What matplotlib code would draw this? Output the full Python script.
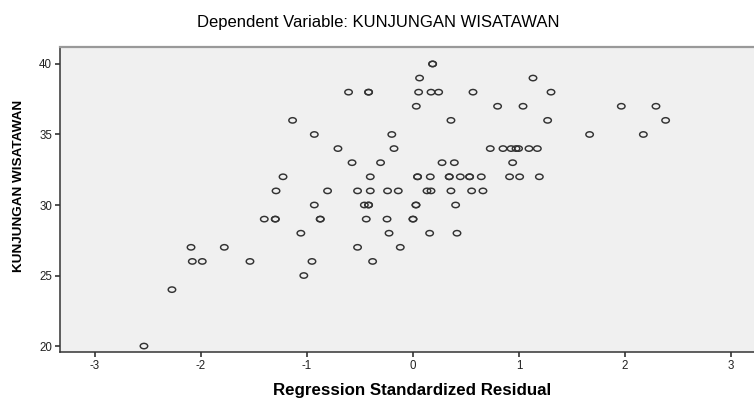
import matplotlib
matplotlib.use("Agg")
import matplotlib.pyplot as plt
from matplotlib.path import Path
from matplotlib.transforms import Affine2D


# data (one entry per plotted point)
residual = [
    0.185, 0.185,
    0.062, 1.132,
    -0.608, -0.419, -0.419, 0.053, 0.170, 0.242, 0.566, 1.302,
    0.031, 0.798, 1.038, 1.965, 2.292,
    -1.136, 0.358, 1.270, 2.383,
    -0.931, -0.200, 1.666, 2.173,
    -0.708, -0.179, 0.729, 0.849, 0.925, 0.972, 0.996, 1.094, 1.173,
    -0.575, -0.306, 0.274, 0.390, 0.940,
    -1.226, -0.403, 0.043, 0.043, 0.163, 0.342, 0.342, 0.446, 0.534, 0.534, 0.644, 0.911, 1.006, 1.192,
    -1.292, -0.806, -0.523, -0.403, -0.240, -0.139, 0.132, 0.170, 0.358, 0.553, 0.660,
    -0.931, -0.459, -0.419, -0.419, 0.028, 0.028, 0.402,
    -1.403, -1.299, -1.299, -0.875, -0.875, -0.441, -0.245, 0.0, 0.0,
    -1.058, -0.226, 0.157, 0.415,
    -2.094, -1.780, -0.523, -0.120,
    -2.082, -1.988, -1.538, -0.953, -0.381,
    -1.030,
    -2.274,
    -2.538,
]
kunjungan = (
    [40] * 2 + [39] * 2 + [38] * 8 + [37] * 5 + [36] * 4 + [35] * 4 + [34] * 9
    + [33] * 5 + [32] * 14 + [31] * 11 + [30] * 7 + [29] * 9 + [28] * 4
    + [27] * 4 + [26] * 5 + [25] + [24] + [20]
)

x_ticks = [-3, -2, -1, 0, 1, 2, 3]
y_ticks = [20, 25, 30, 35, 40]

title = "Dependent Variable: KUNJUNGAN WISATAWAN"
x_label = "Regression Standardized Residual"
y_label = "KUNJUNGAN WISATAWAN"


plt.rcParams['font.family'] = ['Liberation Sans', 'DejaVu Sans']
plt.rcParams['axes.unicode_minus'] = False

fig = plt.figure(figsize=(7.54, 4.01), dpi=100)
ax = fig.add_axes([60 / 754, 49.3 / 401, 706 / 754, 304.4 / 401])
ax.set_facecolor('#f0f0f0')

# the source picture is squashed vertically, so the rings are a bit flat
ring = Path.unit_circle().transformed(Affine2D().scale(1.0, 0.72))
ax.scatter(residual, kunjungan, marker=ring, s=29, facecolors='none',
           edgecolors='#333333', linewidths=1.05, zorder=3)

ax.set_xlim(-3.33, 3.33)
ax.set_ylim(19.6, 41.18)
ax.set_xticks(x_ticks)
ax.set_yticks(y_ticks)
ax.tick_params(axis='both', labelsize=8.3, colors='#333333', labelcolor='#222222',
               length=3.8, width=1.2)
ax.tick_params(axis='x', pad=2.5)
ax.tick_params(axis='y', pad=2)

for side in ['left', 'bottom']:
    ax.spines[side].set_color('#333333')
    ax.spines[side].set_linewidth(1.1)
ax.spines['top'].set_color('#999999')
ax.spines['top'].set_linewidth(1.6)
ax.spines['right'].set_visible(False)

fig.text(378 / 754, 1 - 22 / 401, title, ha='center', va='center', fontsize=12)
fig.text(412 / 754, 1 - 391 / 401, x_label, ha='center', va='center',
         fontsize=12.2, fontweight='bold')
fig.text(19 / 754, 1 - 186 / 401, y_label, ha='center', va='center', rotation=90,
         fontsize=9.7, fontweight='bold',
         family=['Liberation Sans Narrow', 'Liberation Sans', 'DejaVu Sans'])

fig.savefig('out.png', dpi=100)
